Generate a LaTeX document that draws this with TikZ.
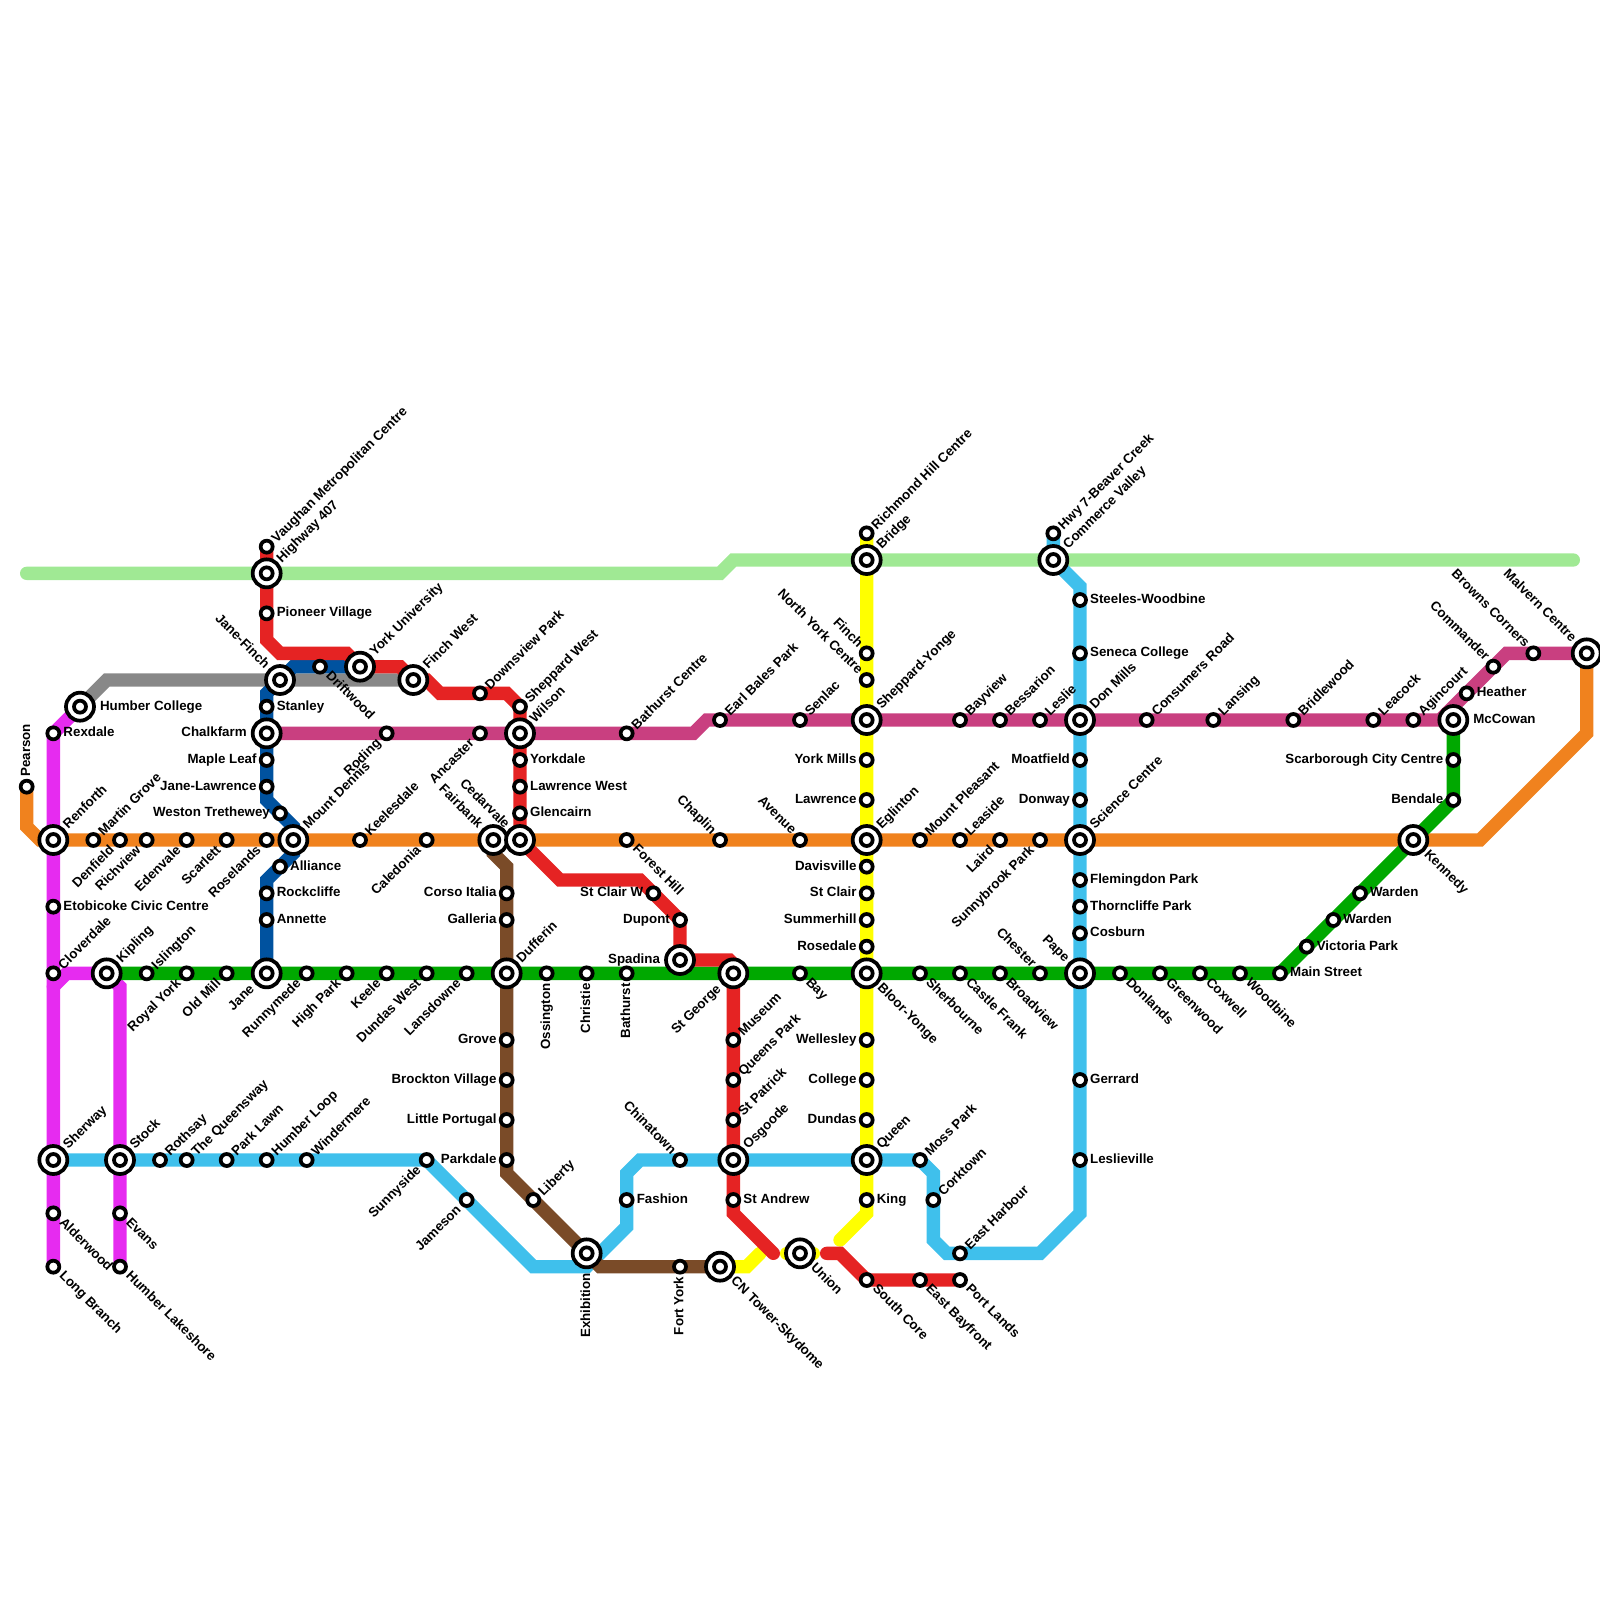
\documentclass[tikz,border=0pt]{standalone}
\usepackage{fontspec}
\setmainfont{Liberation Sans}
\pgfdeclarelayer{lines}
\pgfsetlayers{lines,main}
\definecolor{cGr}{HTML}{A0E994}
\definecolor{cMa}{HTML}{E62BF0}
\definecolor{cOr}{HTML}{F0821E}
\definecolor{cGy}{HTML}{888888}
\definecolor{cDb}{HTML}{00529F}
\definecolor{cCy}{HTML}{3FC0EC}
\definecolor{cBr}{HTML}{7A4B28}
\definecolor{cYe}{HTML}{FFFF00}
\definecolor{cGn}{HTML}{00A800}
\definecolor{cPk}{HTML}{C93F80}
\definecolor{cRd}{HTML}{E52323}
\tikzset{
 metro/.style={line width=10pt,line cap=round,line join=miter,miter limit=10},
 stnode/.style={circle,draw=black,line width=2.8pt,fill=white,minimum size=9pt,inner sep=0pt,outer sep=0pt},
 icouter/.style={circle,draw=black,line width=2.8pt,fill=white,minimum size=21pt,inner sep=0pt,outer sep=0pt},
 icinner/.style={circle,draw=black,line width=2.8pt,fill=white,minimum size=9pt,inner sep=0pt,outer sep=0pt},
 lbl/.style={font=\fontsize{10pt}{12pt}\bfseries\selectfont,text=black,inner sep=0pt,outer sep=0pt,text height=7.2pt,text depth=2.1pt},
 sR/.style={lbl,anchor=west,xshift=7.6pt},
 sL/.style={lbl,anchor=east,xshift=-7.6pt},
 sUR/.style={lbl,anchor=west,rotate=45,xshift=7.2pt,yshift=-1.2pt},
 sUL/.style={lbl,anchor=east,rotate=-45,xshift=-7.5pt,yshift=.5pt},
 sDR/.style={lbl,anchor=west,rotate=-45,xshift=8pt,yshift=.3pt},
 sDL/.style={lbl,anchor=east,rotate=45,xshift=-8.5pt,yshift=-.5pt},
 sVD/.style={lbl,anchor=east,rotate=90,xshift=-7.6pt,yshift=0pt},
 sVU/.style={lbl,anchor=west,rotate=90,xshift=7.6pt,yshift=0pt},
 iR/.style={lbl,anchor=west,xshift=15pt},
 iL/.style={lbl,anchor=east,xshift=-15pt},
 iUR/.style={lbl,anchor=west,rotate=45,xshift=13.5pt,yshift=0pt},
 iUL/.style={lbl,anchor=east,rotate=-45,xshift=-14pt,yshift=0pt},
 iDR/.style={lbl,anchor=west,rotate=-45,xshift=13.5pt,yshift=0pt},
 iDL/.style={lbl,anchor=east,rotate=45,xshift=-15pt,yshift=0pt},
 iVD/.style={lbl,anchor=east,rotate=90,xshift=-15pt,yshift=0pt},
}
\newcommand{\stn}[5]{\node[stnode] (#1) at (#2,#3) {}; \node[s#4] (#1-l) at (#2,#3) {#5};}
\newcommand{\ich}[5]{\node[icouter] (#1) at (#2,#3) {}; \node[icinner] (#1-i) at (#2,#3) {}; \node[i#4] (#1-l) at (#2,#3) {#5};}
\begin{document}
\begin{tikzpicture}[x=10pt,y=-10pt]
\useasboundingbox (0,0) rectangle (120,120);
% bends
\coordinate (a1) at (2,43); \coordinate (a2) at (54,43); \coordinate (a3) at (55,42); \coordinate (a4) at (118,42);
\coordinate (o1) at (2,62); \coordinate (o2) at (3,63); \coordinate (o3) at (111,63); \coordinate (o4) at (119,55);
\coordinate (g1) at (8,51);
\coordinate (d1) at (22,50); \coordinate (d2) at (20,52); \coordinate (d3) at (20,60); \coordinate (d4) at (22,62); \coordinate (d5) at (22,64); \coordinate (d6) at (20,66);
\coordinate (m1) at (4,74); \coordinate (m2) at (5,73); \coordinate (m3) at (9,74);
\coordinate (c1) at (81,44); \coordinate (c2) at (81,91); \coordinate (c3) at (78,94); \coordinate (c4) at (71,94); \coordinate (c5) at (70,93); \coordinate (c6) at (70,88); \coordinate (c7) at (48,87); \coordinate (c8) at (47,88); \coordinate (c9) at (47,92); \coordinate (c10) at (44,95); \coordinate (c11) at (40,95);
\coordinate (b0) at (37,64); \coordinate (b1) at (38,65); \coordinate (b2) at (38,88); \coordinate (b3) at (45,95);
\coordinate (y1) at (65,91); \coordinate (y2) at (63,93); \coordinate (y3) at (56,95); \coordinate (y4) at (57,94); \coordinate (y5) at (59,94); \coordinate (y6) at (61,94);
\coordinate (n1) at (96,73);
\coordinate (p1) at (52,55); \coordinate (p2) at (53,54); \coordinate (p3) at (108,54); \coordinate (p4) at (113,49);
\coordinate (r1) at (20,48); \coordinate (r2) at (21,49); \coordinate (r3) at (26,49); \coordinate (r4) at (30,50); \coordinate (r5) at (32,51); \coordinate (r6) at (33,52); \coordinate (r7) at (38,52); \coordinate (r8) at (42,66); \coordinate (r9) at (48,66); \coordinate (r10) at (54.7,72); \coordinate (r11) at (55,72.3); \coordinate (r12) at (55,91); \coordinate (r13) at (58,94); \coordinate (r14) at (62,94); \coordinate (r15) at (63,94);
% stations
\stn{pearson}{2}{59}{VU}{Pearson}
\ich{renforth}{4}{63}{UR}{Renforth}
\stn{martingrove}{7}{63}{UR}{Martin Grove}
\stn{denfield}{9}{63}{DL}{Denfield}
\stn{richview}{11}{63}{DL}{Richview}
\stn{edenvale}{14}{63}{DL}{Edenvale}
\stn{scarlett}{17}{63}{DL}{Scarlett}
\stn{roselands}{20}{63}{DL}{Roselands}
\ich{mountdennis}{22}{63}{UR}{Mount Dennis}
\stn{keelesdale}{27}{63}{UR}{Keelesdale}
\stn{caledonia}{32}{63}{DL}{Caledonia}
\ich{fairbank}{37}{63}{UL}{Fairbank}
\ich{cedarvale}{39}{63}{UL}{Cedarvale}
\stn{foresthill}{47}{63}{DR}{Forest Hill}
\stn{chaplin}{54}{63}{UL}{Chaplin}
\stn{avenue}{60}{63}{UL}{Avenue}
\ich{eglinton}{65}{63}{UR}{Eglinton}
\stn{mountpleasant}{69}{63}{UR}{Mount Pleasant}
\stn{leaside}{72}{63}{UR}{Leaside}
\stn{laird}{75}{63}{DL}{Laird}
\stn{sunnybrook}{78}{63}{DL}{Sunnybrook Park}
\ich{sciencecentre}{81}{63}{UR}{Science Centre}
\ich{kennedy}{106}{63}{DR}{Kennedy}
% green
\ich{kipling}{8}{73}{UR}{Kipling}
\stn{islington}{11}{73}{UR}{Islington}
\stn{royalyork}{14}{73}{DL}{Royal York}
\stn{oldmill}{17}{73}{DL}{Old Mill}
\ich{jane}{20}{73}{DL}{Jane}
\stn{runnymede}{23}{73}{DL}{Runnymede}
\stn{highpark}{26}{73}{DL}{High Park}
\stn{keele}{29}{73}{DL}{Keele}
\stn{dundaswest}{32}{73}{DL}{Dundas West}
\stn{lansdowne}{35}{73}{DL}{Lansdowne}
\ich{dufferin}{38}{73}{UR}{Dufferin}
\stn{ossington}{41}{73}{VD}{Ossington}
\stn{christie}{44}{73}{VD}{Christie}
\stn{bathurst}{47}{73}{VD}{Bathurst}
\ich{spadina}{51}{72}{L}{Spadina}
\ich{stgeorge}{55}{73}{DL}{St George}
\stn{bay}{60}{73}{DR}{Bay}
\ich{blooryonge}{65}{73}{DR}{Bloor-Yonge}
\stn{sherbourne}{69}{73}{DR}{Sherbourne}
\stn{castlefrank}{72}{73}{DR}{Castle Frank}
\stn{broadview}{75}{73}{DR}{Broadview}
\stn{chester}{78}{73}{UL}{Chester}
\ich{pape}{81}{73}{UL}{Pape}
\stn{donlands}{84}{73}{DR}{Donlands}
\stn{greenwood}{87}{73}{DR}{Greenwood}
\stn{coxwell}{90}{73}{DR}{Coxwell}
\stn{woodbine}{93}{73}{DR}{Woodbine}
\stn{mainstreet}{96}{73}{R}{Main Street}
\stn{victoriapark}{98}{71}{R}{Victoria Park}
\stn{wardena}{100}{69}{R}{Warden}
\stn{wardenb}{102}{67}{R}{Warden}
\stn{bendale}{109}{60}{L}{Bendale}
\stn{scarborough}{109}{57}{L}{Scarborough City Centre}
\ich{mccowan}{109}{54}{R}{McCowan}
% magenta
\ich{humbercollege}{6}{53}{R}{Humber College}
\stn{rexdale}{4}{55}{R}{Rexdale}
\stn{etobicoke}{4}{68}{R}{Etobicoke Civic Centre}
\stn{cloverdale}{4}{73}{UR}{Cloverdale}
\ich{sherway}{4}{87}{UR}{Sherway}
\stn{alderwood}{4}{91}{DR}{Alderwood}
\stn{longbranch}{4}{95}{DR}{Long Branch}
\ich{stock}{9}{87}{UR}{Stock}
\stn{evans}{9}{91}{DR}{Evans}
\stn{humberlakeshore}{9}{95}{DR}{Humber Lakeshore}
% cyan
\stn{rothsay}{12}{87}{UR}{Rothsay}
\stn{queensway}{14}{87}{UR}{The Queensway}
\stn{parklawn}{17}{87}{UR}{Park Lawn}
\stn{humberloop}{20}{87}{UR}{Humber Loop}
\stn{windermere}{23}{87}{UR}{Windermere}
\stn{sunnyside}{32}{87}{DL}{Sunnyside}
\stn{jameson}{35}{90}{DL}{Jameson}
\ich{exhibition}{44}{94}{VD}{Exhibition}
\stn{fashion}{47}{90}{R}{Fashion}
\stn{chinatown}{51}{87}{UL}{Chinatown}
\ich{osgoode}{55}{87}{UR}{Osgoode}
\ich{queen}{65}{87}{UR}{Queen}
\stn{mosspark}{69}{87}{UR}{Moss Park}
\stn{corktown}{70}{90}{UR}{Corktown}
\stn{eastharbour}{72}{94}{UR}{East Harbour}
\stn{leslieville}{81}{87}{R}{Leslieville}
\stn{gerrard}{81}{81}{R}{Gerrard}
\stn{cosburn}{81}{70}{R}{Cosburn}
\stn{thorncliffe}{81}{68}{R}{Thorncliffe Park}
\stn{flemingdon}{81}{66}{R}{Flemingdon Park}
\stn{donway}{81}{60}{L}{Donway}
\stn{moatfield}{81}{57}{L}{Moatfield}
\ich{donmills}{81}{54}{UR}{Don Mills}
\stn{seneca}{81}{49}{R}{Seneca College}
\stn{steeles}{81}{45}{R}{Steeles-Woodbine}
\ich{commerce}{79}{42}{UR}{Commerce Valley}
\stn{hwyseven}{79}{40}{UR}{Hwy 7-Beaver Creek}
% brown
\stn{corso}{38}{67}{L}{Corso Italia}
\stn{galleria}{38}{69}{L}{Galleria}
\stn{grove}{38}{78}{L}{Grove}
\stn{brockton}{38}{81}{L}{Brockton Village}
\stn{littleportugal}{38}{84}{L}{Little Portugal}
\stn{parkdale}{38}{87}{L}{Parkdale}
\stn{liberty}{40}{90}{UR}{Liberty}
\stn{fortyork}{51}{95}{VD}{Fort York}
\ich{cntower}{54}{95}{DR}{CN Tower-Skydome}
% yellow
\stn{richmondhill}{65}{40}{UR}{Richmond Hill Centre}
\ich{bridge}{65}{42}{UR}{Bridge}
\stn{finch}{65}{49}{UL}{Finch}
\stn{northyork}{65}{51}{UL}{North York Centre}
\ich{sheppardyonge}{65}{54}{UR}{Sheppard-Yonge}
\stn{yorkmills}{65}{57}{L}{York Mills}
\stn{lawrence}{65}{60}{L}{Lawrence}
\stn{davisville}{65}{65}{L}{Davisville}
\stn{stclair}{65}{67}{L}{St Clair}
\stn{summerhill}{65}{69}{L}{Summerhill}
\stn{rosedale}{65}{71}{L}{Rosedale}
\stn{wellesley}{65}{78}{L}{Wellesley}
\stn{college}{65}{81}{L}{College}
\stn{dundas}{65}{84}{L}{Dundas}
\stn{king}{65}{90}{R}{King}
\ich{union}{60}{94}{DR}{Union}
% pink
\ich{chalkfarm}{20}{55}{L}{Chalkfarm}
\stn{roding}{29}{55}{DL}{Roding}
\stn{ancaster}{36}{55}{DL}{Ancaster}
\ich{wilson}{39}{55}{UR}{Wilson}
\stn{bathurstcentre}{47}{55}{UR}{Bathurst Centre}
\stn{earlbales}{54}{54}{UR}{Earl Bales Park}
\stn{senlac}{60}{54}{UR}{Senlac}
\stn{bayview}{72}{54}{UR}{Bayview}
\stn{bessarion}{75}{54}{UR}{Bessarion}
\stn{leslie}{78}{54}{UR}{Leslie}
\stn{consumers}{86}{54}{UR}{Consumers Road}
\stn{lansing}{91}{54}{UR}{Lansing}
\stn{bridlewood}{97}{54}{UR}{Bridlewood}
\stn{leacock}{103}{54}{UR}{Leacock}
\stn{agincourt}{106}{54}{UR}{Agincourt}
\stn{heather}{110}{52}{R}{Heather}
\stn{commander}{112}{50}{UL}{Commander}
\stn{browns}{115}{49}{UL}{Browns Corners}
\ich{malvern}{119}{49}{UL}{Malvern Centre}
% dark blue
\ich{janefinch}{21}{51}{UL}{Jane-Finch}
\stn{driftwood}{24}{50}{DR}{Driftwood}
\stn{stanley}{20}{53}{R}{Stanley}
\stn{mapleleaf}{20}{57}{L}{Maple Leaf}
\stn{janelawrence}{20}{59}{L}{Jane-Lawrence}
\stn{weston}{21}{61}{L}{Weston Trethewey}
\stn{alliance}{21}{65}{R}{Alliance}
\stn{rockcliffe}{20}{67}{R}{Rockcliffe}
\stn{annette}{20}{69}{R}{Annette}
% red
\stn{vaughan}{20}{41}{UR}{Vaughan Metropolitan Centre}
\ich{highway}{20}{43}{UR}{Highway 407}
\stn{pioneer}{20}{46}{R}{Pioneer Village}
\ich{yorku}{27}{50}{UR}{York University}
\ich{finchwest}{31}{51}{UR}{Finch West}
\stn{downsview}{36}{52}{UR}{Downsview Park}
\stn{sheppardwest}{39}{53}{UR}{Sheppard West}
\stn{yorkdale}{39}{57}{R}{Yorkdale}
\stn{lawrencewest}{39}{59}{R}{Lawrence West}
\stn{glencairn}{39}{61}{R}{Glencairn}
\stn{stclairw}{49}{67}{L}{St Clair W}
\stn{dupont}{51}{69}{L}{Dupont}
\stn{museum}{55}{78}{UR}{Museum}
\stn{queenspark}{55}{81}{UR}{Queens Park}
\stn{stpatrick}{55}{84}{UR}{St Patrick}
\stn{standrew}{55}{90}{R}{St Andrew}
\stn{southcore}{65}{96}{DR}{South Core}
\stn{eastbayfront}{69}{96}{DR}{East Bayfront}
\stn{portlands}{72}{96}{DR}{Port Lands}
% lines
\begin{pgfonlayer}{lines}
\draw[metro,cGr] (a1)--(highway.center)--(a2)--(a3)--(bridge.center)--(commerce.center)--(a4);
\draw[metro,cMa] (humbercollege.center)--(rexdale.center)--(longbranch.center);
\draw[metro,cMa] (m1)--(m2)--(kipling.center)--(m3)--(humberlakeshore.center);
\draw[metro,cOr] (pearson.center)--(o1)--(o2)--(o3)--(o4)--(malvern.center);
\draw[metro,cGy] (humbercollege.center)--(g1)--(finchwest.center);
\draw[metro,cDb] (yorku.center)--(d1)--(d2)--(d3)--(d4)--(d5)--(d6)--(jane.center);
\draw[metro,cCy] (hwyseven.center)--(commerce.center)--(c1)--(c2)--(c3)--(c4)--(c5)--(c6)--(mosspark.center)--(c7)--(c8)--(c9)--(c10)--(c11)--(sunnyside.center)--(sherway.center);
\draw[metro,cBr] (fairbank.center)--(b0)--(b1)--(b2)--(b3)--(cntower.center);
\draw[metro,cYe] (richmondhill.center)--(y1)--(y2);
\draw[metro,cYe] (cntower.center)--(y3)--(y4);
\draw[metro,cYe] (y5)--(y6);
\draw[metro,cGn] (kipling.center)--(n1)--(bendale.center)--(mccowan.center);
\draw[metro,cPk] (chalkfarm.center)--(p1)--(p2)--(p3)--(p4)--(malvern.center);
\draw[metro,cRd] (vaughan.center)--(r1)--(r2)--(r3)--(yorku.center)--(r4)--(finchwest.center)--(r5)--(r6)--(r7)--(sheppardwest.center)--(cedarvale.center)--(r8)--(r9)--(dupont.center)--(spadina.center)--(r10)--(r11)--(r12)--(r13);
\draw[metro,cRd] (r14)--(r15)--(southcore.center)--(portlands.center);
\end{pgfonlayer}
\end{tikzpicture}
\end{document}
